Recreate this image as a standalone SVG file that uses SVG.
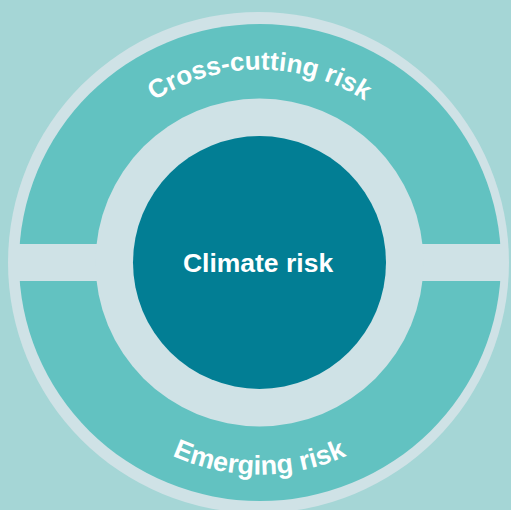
<svg xmlns="http://www.w3.org/2000/svg" width="511" height="510" viewBox="0 0 511 510">
  <style>
    .light { fill: #cfe2e6; }
    .ring { fill: #62c2c1; }
    .core { fill: #027e94; }
    .label { font-family: "Liberation Sans", Arial, Helvetica, sans-serif; font-weight: bold; font-size: 26px; fill: #ffffff; }
  </style>
  <defs>
    <!-- baseline arcs for the curved ring labels -->
    <path id="arc-top" d="M 66.5 262.5 A 193 193 0 0 1 452.5 262.5"/>
    <path id="arc-bottom" d="M 47.5 262.5 A 212 212 0 0 0 471.5 262.5"/>
  </defs>

  <rect id="background" x="0" y="0" width="511" height="510" fill="#a5d6d6"/>

  <g id="outer-ring">
    <circle class="light" cx="258.5" cy="262.5" r="250.5"/>
    <ellipse class="ring" cx="260" cy="262.5" rx="241" ry="238.5"/>
  </g>

  <!-- horizontal divider splitting the ring into two halves -->
  <rect id="divider" class="light" x="14" y="244" width="491" height="37"/>

  <g id="climate-risk">
    <circle class="light" cx="259.5" cy="262.5" r="164"/>
    <circle class="core" cx="259.5" cy="262.5" r="126.5"/>
    <text class="label" x="258" y="272" text-anchor="middle" style="font-size:26.5px">Climate risk</text>
  </g>

  <g id="cross-cutting-risk">
    <text class="label"><textPath href="#arc-top" startOffset="50%" text-anchor="middle">Cross-cutting risk</textPath></text>
  </g>

  <g id="emerging-risk">
    <text class="label" style="font-size:27px"><textPath href="#arc-bottom" startOffset="50%" text-anchor="middle">Emerging risk</textPath></text>
  </g>
</svg>
